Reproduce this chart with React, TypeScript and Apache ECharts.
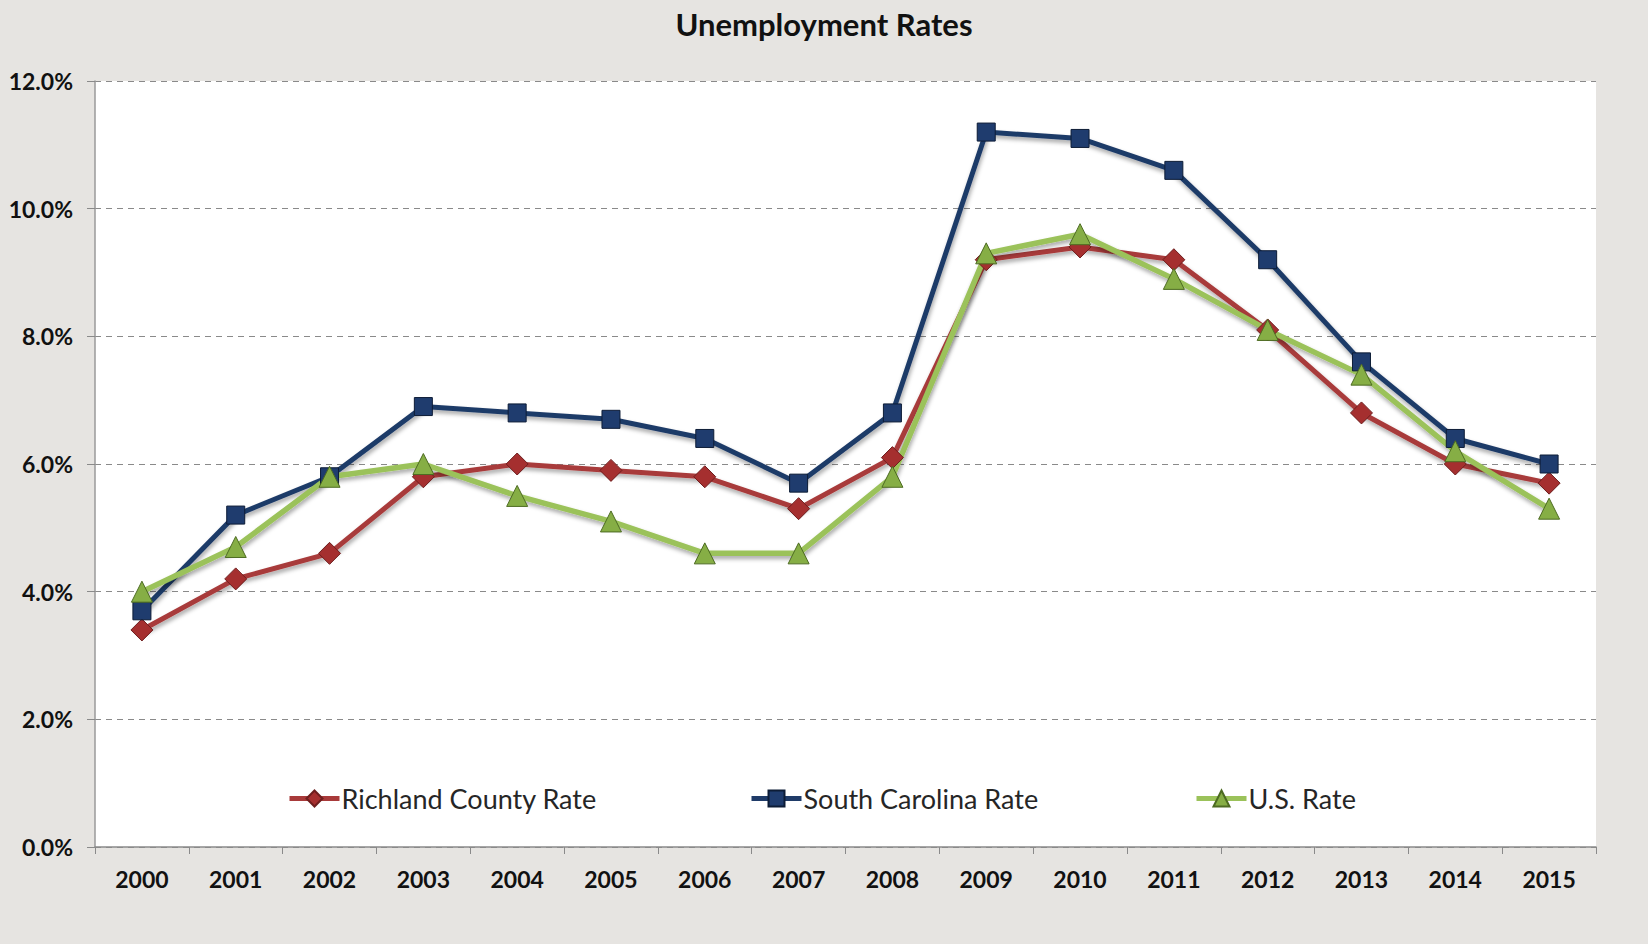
import React, { useEffect, useRef } from "react";
import * as echarts from "echarts";

const years = ["2000","2001","2002","2003","2004","2005","2006","2007","2008","2009","2010","2011","2012","2013","2014","2015"];
const richland = [3.4, 4.2, 4.6, 5.8, 6.0, 5.9, 5.8, 5.3, 6.1, 9.2, 9.4, 9.2, 8.1, 6.8, 6.0, 5.7];
const southCarolina = [3.7, 5.2, 5.8, 6.9, 6.8, 6.7, 6.4, 5.7, 6.8, 11.2, 11.1, 10.6, 9.2, 7.6, 6.4, 6.0];
const usRate = [4.0, 4.7, 5.8, 6.0, 5.5, 5.1, 4.6, 4.6, 5.8, 9.3, 9.6, 8.9, 8.1, 7.4, 6.2, 5.3];
const seriesNames = ["Richland County Rate", "South Carolina Rate", "U.S. Rate"];

export default function App() {
  const ref = useRef<HTMLDivElement>(null);
  useEffect(() => {
    if (!ref.current) return;
    const chart = echarts.init(ref.current, undefined, { renderer: "svg" });
    const shadow = { shadowBlur: 4, shadowColor: "rgba(0,0,0,0.35)", shadowOffsetX: 1, shadowOffsetY: 3 };
    const legendText = { fontFamily: "Lato", fontSize: 27, color: "#262626", padding: [0, 0, 0, -3] };
    const lg = {
      top: 780, itemWidth: 50, itemHeight: 20, textStyle: legendText, itemGap: 0,
      lineStyle: { width: 5, shadowBlur: 0, shadowOffsetX: 0, shadowOffsetY: 0 },
    };
    chart.setOption({
      animation: false,
      backgroundColor: "#e6e4e1",
      title: {
        text: "Unemployment Rates",
        left: "center",
        top: 3,
        textStyle: { fontFamily: "Lato", fontWeight: "bold", fontSize: 31, color: "#111" },
      },
      legend: [
        { ...lg, data: [seriesNames[0]], left: 282 },
        { ...lg, data: [seriesNames[1]], left: 744 },
        { ...lg, data: [seriesNames[2]], left: 1189 },
      ],
      grid: {
        left: 95, right: 52, top: 81, bottom: 97,
        show: true, backgroundColor: "#ffffff", borderWidth: 0,
      },
      xAxis: {
        type: "category",
        data: years,
        boundaryGap: true,
        axisLine: { lineStyle: { color: "#8a8a8a", width: 1.5 } },
        axisTick: { show: true, length: 7, lineStyle: { color: "#8a8a8a" } },
        axisLabel: { fontFamily: "Lato", fontWeight: "bold", fontSize: 23, color: "#111", margin: 20 },
      },
      yAxis: {
        type: "value",
        min: 0, max: 12, interval: 2,
        axisLine: { show: true, lineStyle: { color: "#9a9a9a", width: 1.5 } },
        axisTick: { show: true, length: 8, lineStyle: { color: "#8a8a8a" } },
        axisLabel: {
          fontFamily: "Lato", fontWeight: "bold", fontSize: 23, color: "#111", margin: 22,
          formatter: (v: number) => v.toFixed(1) + "%",
        },
        splitLine: { show: true, lineStyle: { color: "#8a8a8a", type: [6, 5], width: 1.2 } },
      },
      series: [
        {
          name: seriesNames[0], type: "line", data: richland,
          symbol: "diamond", symbolSize: 22,
          lineStyle: { color: "#a83a3a", width: 5, ...shadow },
          itemStyle: { color: "#a52f2f", borderColor: "#6e1e1e", borderWidth: 1 },
        },
        {
          name: seriesNames[1], type: "line", data: southCarolina,
          symbol: "rect", symbolSize: 18,
          lineStyle: { color: "#1f3b68", width: 5, ...shadow },
          itemStyle: { color: "#1f3c6e", borderColor: "#0d1c36", borderWidth: 1 },
        },
        {
          name: seriesNames[2], type: "line", data: usRate,
          symbol: "triangle", symbolSize: 21,
          lineStyle: { color: "#9bc25a", width: 5.5, ...shadow },
          itemStyle: { color: "#86ae45", borderColor: "#4d6b22", borderWidth: 1 },
        },
      ],
    });
    return () => chart.dispose();
  }, []);
  return <div ref={ref} style={{ position: "fixed", left: 0, top: 0, width: 1648, height: 944 }} />;
}
